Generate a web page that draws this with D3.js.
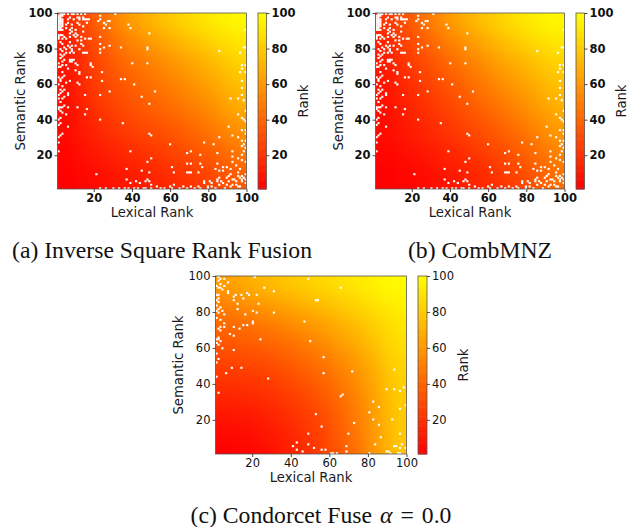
<!DOCTYPE html>
<html>
<head>
<meta charset="utf-8">
<script src="https://cdn.jsdelivr.net/npm/d3@7"></script>
<style>
html, body { margin: 0; padding: 0; background: #fff; }
svg { display: block; }
text { fill: #1a1a1a; }
</style>
</head>
<body>
<svg id="chart" width="637" height="527"></svg>
<script>
// rows run from semantic rank 100 (top) down to 1, columns from lexical rank 1 to 100
const gridIsr = [
	[14, 30, 45, 58, 68, 76, 83, 89, 94, 98],
	[10, 25, 38, 50, 58, 66, 73, 80, 86, 91],
	[8, 22, 33, 43, 50, 57, 64, 71, 78, 85],
	[7, 20, 30, 38, 45, 51, 57, 63, 71, 79],
	[6, 18, 27, 33, 40, 45, 51, 57, 65, 73],
	[5, 15, 23, 29, 35, 40, 45, 51, 58, 67],
	[4, 12, 19, 24, 29, 33, 38, 44, 51, 59],
	[3, 9, 14, 18, 23, 27, 32, 37, 43, 51],
	[2, 6, 10, 13, 17, 21, 25, 30, 36, 43],
	[1, 3, 6, 9, 12, 15, 19, 23, 29, 36]
];
const gridMnz = [
	[20, 32, 44, 56, 67, 75, 83, 89, 94, 98],
	[14, 26, 37, 48, 57, 66, 74, 81, 87, 92],
	[11, 22, 31, 40, 49, 57, 65, 72, 79, 85],
	[9, 18, 26, 34, 42, 50, 58, 65, 72, 79],
	[8, 15, 22, 29, 36, 44, 51, 58, 66, 74],
	[6, 12, 18, 24, 31, 38, 45, 52, 60, 68],
	[5, 10, 15, 20, 26, 32, 38, 45, 53, 62],
	[4, 7, 11, 15, 20, 26, 32, 38, 46, 55],
	[2, 4, 7, 11, 15, 20, 26, 32, 40, 49],
	[1, 2, 4, 7, 11, 15, 20, 26, 34, 43]
];
const gridCondorcet = [
	[62, 68, 73, 77, 81, 85, 88, 92, 96, 99],
	[52, 57, 62, 66, 71, 75, 80, 85, 90, 95],
	[43, 46, 50, 55, 60, 65, 71, 77, 84, 91],
	[36, 38, 41, 45, 50, 56, 63, 70, 79, 88],
	[29, 31, 33, 37, 42, 48, 55, 64, 74, 85],
	[23, 24, 26, 30, 35, 41, 49, 58, 70, 83],
	[17, 18, 20, 24, 29, 36, 44, 54, 67, 81],
	[11, 12, 15, 19, 24, 31, 40, 51, 65, 80],
	[6, 7, 10, 14, 20, 27, 37, 49, 63, 79],
	[1, 3, 6, 11, 17, 25, 35, 47, 62, 78]
];

// [lexical, semantic] cells with no value (white), shared by the ISR and CombMNZ panels
const missingSparse = [
	[2,100],[3,100],[4,100],[6,100],[8,100],[9,100],[11,100],[13,100],[15,100],[31,100],
	[1,99],[2,99],[3,99],[7,98],[11,98],[12,98],[14,98],[23,99],[23,97],
	[1,98],[2,98],[1,97],[2,97],[3,97],[6,97],[9,97],[12,97],[14,97],[15,97],[16,97],[17,97],
	[1,96],[2,96],[3,96],[6,95],[11,95],[16,95],[22,96],[25,95],[26,94],[28,96],[27,96],
	[1,95],[2,95],[3,95],[1,94],[2,94],[3,94],[5,94],[8,94],[12,94],[38,94],
	[1,93],[2,93],[3,93],[8,92],[5,92],[25,92],[28,92],[39,92],[14,93],
	[1,92],[2,92],[1,91],[2,91],[3,91],[7,91],[10,91],[14,90],
	[8,90],[10,89],[7,89],[9,88],[11,88],[49,89],[23,87],[13,87],
	[1,88],[2,88],[3,88],[1,87],[4,87],[7,87],[10,87],[15,86],[17,86],[18,86],
	[1,86],[3,86],[5,86],[11,85],[13,85],[2,84],[7,84],[13,83],[23,83],
	[3,83],[6,82],[8,82],[10,82],[14,82],[28,82],[4,81],[7,81],[25,81],[34,81],[48,81],
	[2,80],[5,80],[8,80],[12,80],[23,80],[48,80],[3,79],[8,79],[86,79],
	[5,78],[7,78],[9,78],[14,78],[15,78],[16,78],[23,78],[97,78],[2,77],[4,77],
	[3,76],[2,75],[7,74],[8,74],[9,74],[4,74],[3,73],[7,73],[8,73],[10,72],[18,72],[40,72],[48,72],
	[1,72],[3,71],[5,71],[11,71],[19,70],[18,71],[1,70],[2,70],[6,69],[10,68],[12,67],[24,67],
	[3,67],[12,66],[4,65],[1,64],[3,64],[16,64],[18,64],[2,63],[34,63],[36,63],[7,62],
	[2,62],[5,61],[11,61],[24,62],[12,60],[41,60],[1,60],[3,59],[2,57],[4,57],[98,62],[98,58],
	[3,56],[28,56],[52,56],[6,55],[2,55],[1,54],[6,54],[15,54],[23,54],[4,53],[45,53],
	[1,52],[3,52],[92,52],[96,52],[98,54],[99,51],[2,50],[49,49],[4,48],[3,47],[1,47],[2,47],
	[6,47],[11,47],[16,46],[1,46],[2,45],[3,44],[5,43],[15,43],[96,43],[2,41],[23,40],[98,41],
	[1,40],[35,38],[2,38],[1,37],[6,36],[91,36],[3,32],[2,31],[1,30],[49,32],[50,31],[93,31],
	[1,27],[60,26],[78,27],[83,26],[86,30],[96,30],[1,22],[39,22],[71,22],[69,21],[76,20],[85,21],
	[50,18],[48,16],[37,12],[45,11],[49,10],[21,9],[61,13],[62,10],[69,15],[71,15],[69,10],[70,10],
	[71,10],[75,10],[76,15],[77,13],[85,15],[84,12],[86,11],[88,13],[90,13],[88,11],[92,12],
	[93,22],[93,19],[93,16],[95,14],[97,12],[96,18],[98,17],[100,16],[98,20],[99,22],[100,24],[98,25],
	[99,26],[98,28],[100,28],[100,32],[98,34],[100,34],[100,39],[99,40],[100,45],[100,67],[98,69],[97,67],
	[98,71],[100,71],[100,81],[99,81],[100,91],
	[37,6],[39,4],[42,5],[44,4],[47,5],[48,6],[49,5],[50,3],[23,1],[26,1],[30,1],[33,1],[36,1],[38,1],
	[41,1],[43,1],[46,1],[47,1],[50,1],[53,2],[55,1],[57,1],[60,2],[61,1],[62,3],[65,1],[67,2],[69,1],
	[71,2],[73,1],[75,2],[76,1],[78,4],[78,5],[80,1],[80,2],[81,5],[82,4],[82,2],[84,1],[85,5],[85,6],
	[86,3],[86,7],[87,5],[88,4],[89,1],[90,7],[90,3],[91,8],[91,5],[92,2],[92,9],[93,6],[93,3],[94,6],
	[95,3],[95,5],[96,2],[96,8],[96,10],[97,7],[98,5],[98,8],[98,6],[99,7],[100,6],[100,9],[97,2],[100,4]
];
const missingCondorcet = [
	[2,100],[21,100],[49,99],[3,99],[5,99],[2,98],[7,97],[3,96],[1,95],[2,94],[3,94],[5,95],[66,94],[26,94],
	[4,93],[7,92],[7,91],[31,92],[17,91],[18,90],[1,90],[2,90],[11,90],[14,90],[22,90],[10,89],[15,88],
	[2,88],[1,87],[10,87],[53,87],[54,87],[2,86],[12,85],[23,85],[1,84],[3,83],[2,82],[12,82],[1,81],
	[4,81],[20,81],[2,80],[22,80],[31,80],[5,79],[16,79],[1,77],[3,76],[20,75],[47,75],[5,74],[20,74],
	[3,72],[5,72],[10,72],[15,73],[17,73],[13,71],[2,71],[3,70],[8,68],[10,67],[2,66],[1,65],[2,65],
	[24,65],[3,64],[50,64],[1,63],[2,62],[4,60],[10,59],[1,57],[57,55],[2,54],[1,52],[9,49],[14,49],
	[94,48],[72,47],[6,46],[57,46],[1,44],[28,43],[90,37],[94,37],[99,38],[97,36],[2,35],[67,34],[66,33],
	[83,30],[86,27],[97,26],[100,28],[81,24],[53,23],[83,20],[93,20],[86,17],[73,18],[56,16],[49,12],
	[70,12],[97,12],[87,10],[84,6],[43,7],[41,5],[49,6],[69,5],[94,5],[95,5],[98,6],[97,4],[100,4],
	[43,3],[52,4],[56,3],[58,3],[46,2],[69,2],[90,2],[91,2],[61,1],[62,1],[64,1],[81,1],[92,1],[96,1],[97,1]
];

const rankTicks = [20, 40, 60, 80, 100];
const panels = [
	{ grid: gridIsr, missing: missingSparse, x: 57.5, y: 13, w: 189, h: 176, cbx: 258, cbw: 8.5, weight: "bold", caption: "(a) Inverse Square Rank Fusion", capx: 162, capy: 258 },
	{ grid: gridMnz, missing: missingSparse, x: 375.5, y: 13, w: 189, h: 176, cbx: 576, cbw: 8.5, weight: "bold", caption: "(b) CombMNZ", capx: 480, capy: 258 },
	{ grid: gridCondorcet, missing: missingCondorcet, x: 215.5, y: 276, w: 191, h: 178, cbx: 418, cbw: 9, weight: "normal", capx: 321, capy: 523 }
];

const svg = d3.select("#chart");
const color = d3.scaleLinear().domain([1, 100]).range(["#ff0000", "#ffff00"]);
const font = "'DejaVu Sans', sans-serif";

const defs = svg.append("defs");
defs.append("filter").attr("id", "smooth")
	.attr("color-interpolation-filters", "sRGB")
	.attr("x", "-10%").attr("y", "-10%").attr("width", "120%").attr("height", "120%")
	.append("feGaussianBlur").attr("stdDeviation", 9);
defs.append("filter").attr("id", "soft")
	.attr("color-interpolation-filters", "sRGB")
	.append("feGaussianBlur").attr("stdDeviation", 0.2);

//-----------------------------------
function drawAxis(g, axis, weight) {
	g.call(axis);
	g.selectAll("text").attr("font-family", font).attr("font-size", 11.5).attr("font-weight", weight).style("fill", "#111");
	g.selectAll("line").attr("stroke", "#222").attr("stroke-width", 0.8);
	g.select(".domain").remove();
}

//-----------------------------------
function drawPanel(p, i) {
	const g = svg.append("g").attr("transform", `translate(${p.x},${p.y})`);
	const x = d3.scaleLinear().domain([1, 100]).range([0, p.w]);
	const y = d3.scaleLinear().domain([1, 100]).range([p.h, 0]);
	const col = d3.scaleBand().domain(d3.range(10)).range([0, p.w]);
	const row = d3.scaleBand().domain(d3.range(10)).range([0, p.h]);
	const cellX = d3.scaleBand().domain(d3.range(1, 101)).range([0, p.w]);
	const cellY = d3.scaleBand().domain(d3.range(100, 0, -1)).range([0, p.h]);

	defs.append("clipPath").attr("id", "clip" + i).append("rect").attr("width", p.w).attr("height", p.h);
	const plot = g.append("g").attr("clip-path", `url(#clip${i})`);
	const pad = 30;   // edge cells run past the frame so the blur does not fade at the border
	const field = plot.append("g").attr("filter", "url(#smooth)");
	p.grid.forEach((values, r) => {
		values.forEach((v, c) => {
			field.append("rect")
				.attr("x", col(c) - (c === 0 ? pad : 0))
				.attr("y", row(r) - (r === 0 ? pad : 0))
				.attr("width", col.bandwidth() + (c === 0 || c === 9 ? pad : 0) + 0.5)
				.attr("height", row.bandwidth() + (r === 0 || r === 9 ? pad : 0) + 0.5)
				.attr("fill", color(v));
		});
	});

	plot.append("g").attr("filter", "url(#soft)").selectAll("rect").data(p.missing).join("rect")
		.attr("x", d => cellX(d[0]))
		.attr("y", d => cellY(d[1]))
		.attr("width", cellX.bandwidth() + 0.3)
		.attr("height", cellY.bandwidth() + 0.3)
		.attr("fill", "#fff");

	g.append("rect").attr("width", p.w).attr("height", p.h)
		.attr("fill", "none").attr("stroke", "#555").attr("stroke-width", 0.8);

	drawAxis(g.append("g").attr("transform", `translate(0,${p.h})`),
		d3.axisBottom(x).tickValues(rankTicks).tickSize(3).tickPadding(2), p.weight);
	drawAxis(g.append("g"),
		d3.axisLeft(y).tickValues(rankTicks).tickSize(3).tickPadding(2), p.weight);

	g.append("text").attr("x", p.w / 2).attr("y", p.h + 28).attr("text-anchor", "middle")
		.attr("font-family", font).attr("font-size", 13.2).text("Lexical Rank");
	g.append("text").attr("transform", `translate(-33,${p.h / 2}) rotate(-90)`).attr("text-anchor", "middle")
		.attr("font-family", font).attr("font-size", 13.2).text("Semantic Rank");

	// colorbar
	const cbx = p.cbx - p.x;
	const cbScale = d3.scaleLinear().domain([1, 100]).range([p.h, 0]);
	const cb = g.append("g").attr("transform", `translate(${cbx},0)`);
	cb.selectAll("rect").data(d3.range(1, 100)).join("rect")
		.attr("y", d => cbScale(d + 1))
		.attr("width", p.cbw)
		.attr("height", d => cbScale(d) - cbScale(d + 1) + 0.5)
		.attr("fill", d => color(d));
	cb.append("rect").attr("width", p.cbw).attr("height", p.h)
		.attr("fill", "none").attr("stroke", "#555").attr("stroke-width", 0.8);
	drawAxis(cb.append("g").attr("transform", `translate(${p.cbw},0)`),
		d3.axisRight(cbScale).tickValues(rankTicks).tickSize(3).tickPadding(2), p.weight);
	g.append("text").attr("transform", `translate(${cbx + p.cbw + 41},${p.h / 2}) rotate(-90)`).attr("text-anchor", "middle")
		.attr("font-family", font).attr("font-size", 13.2).text("Rank");

	// caption
	const cap = svg.append("text").attr("x", p.capx).attr("y", p.capy).attr("text-anchor", "middle")
		.attr("font-family", "'Liberation Serif', serif").attr("font-size", 23.7).style("fill", "#111");
	if (p.caption) {
		cap.text(p.caption);
	} else {
		cap.append("tspan").text("(c) Condorcet Fuse ");
		cap.append("tspan").attr("dx", 2).attr("font-style", "italic").text("α");
		cap.append("tspan").attr("dx", 8).text("=");
		cap.append("tspan").attr("dx", 8).text("0.0");
	}
}

panels.forEach(drawPanel);
</script>
</body>
</html>
